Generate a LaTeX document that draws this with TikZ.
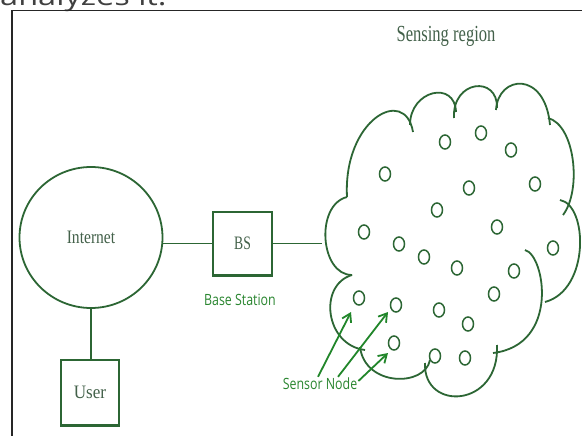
\documentclass[tikz,border=0pt]{standalone}
\usepackage{fontspec}
\setmainfont{Liberation Serif}
\newfontfamily\labelfont{Open Sans}
\usetikzlibrary{shapes.geometric,arrows.meta}
\definecolor{outl}{HTML}{2C6634}
\definecolor{txtg}{HTML}{43614A}
\definecolor{lblg}{HTML}{2A8630}
\definecolor{arrg}{HTML}{21862A}
\begin{document}
\begin{tikzpicture}[x=1pt,y=-1pt,
  outline/.style={draw=outl, line width=1.8pt},
  sensor/.style={ellipse, draw=outl, line width=1.5pt, minimum width=11pt, minimum height=14pt, inner sep=0pt},
  box/.style={rectangle, draw=outl, line width=1.8pt, inner sep=0pt},
  serif/.style={text=txtg, font=\fontsize{19}{22}\selectfont},
  lbl/.style={text=lblg, inner sep=1pt, font=\labelfont\fontsize{15.5}{18}\selectfont},
  arr/.style={draw=arrg, line width=1.8pt, -{Straight Barb[length=8pt,width=10pt]}}]
\useasboundingbox (0,0) rectangle (582,436);
\clip (0,0) rectangle (582,436);
\fill[white] (0,0) rectangle (582,436);

% cropped text fragment at top
\node[anchor=base west, inner sep=0pt, text=black!75, font=\labelfont\fontsize{26}{30}\selectfont] (frag) at (0,6) {\scalebox{1.25}[1]{analyzes it.}};

% frame
\draw[line width=1.6pt, black!85] (12,436) -- (12,10.5) -- (582,10.5);

% left part
\node[ellipse, outline, minimum width=143pt, minimum height=141pt, inner sep=0pt, serif] (inet) at (91,237.5) {\raisebox{-3pt}{\scalebox{0.82}[1]{Internet}}};
\node[box, serif, minimum width=59pt, minimum height=63pt] (bs) at (242.5,243.5) {\scalebox{0.72}[1]{BS}};
\node[lbl] (bslbl) at (240,300) {\scalebox{0.8}[1]{Base Station}};
\node[box, serif, minimum width=58pt, minimum height=65pt] (user) at (90,392.5) {\scalebox{0.9}[1]{User}};
\draw[outl, line width=2.8pt] (bs.south west) -- (bs.south east);
\draw[outl, line width=2.8pt] (user.south west) -- (user.south east);

\coordinate (cloudL) at (322,243.5);
\draw[outline] (inet.east |- bs.west) -- (bs.west);
\draw[outline] (bs.east) -- (cloudL);
\draw[outline] (inet.south) -- (inet.south |- user.north);

% cloud
\draw[outline] (347,197) .. controls (343,120) and (405,85) .. (413,132);
\draw[outline] (410,125) .. controls (410,90) and (455,80) .. (456,112);
\draw[outline] (454,118) .. controls (452,80) and (498,75) .. (497,108);
\draw[outline] (496,110) .. controls (498,75) and (545,70) .. (550,125);
\draw[outline] (548,118) .. controls (575,125) and (582,190) .. (563,215);
\draw[outline] (560,200) .. controls (588,205) and (590,290) .. (545,302);
\draw[outline] (525,250) .. controls (545,255) and (560,345) .. (493,353);
\draw[outline] (497,345) .. controls (500,408) and (423,412) .. (425,363);
\draw[outline] (430,360) .. controls (425,387) and (365,387) .. (360,347);
\draw[outline] (365,350) .. controls (325,345) and (318,285) .. (352,275);
\draw[outline] (352,275) .. controls (320,275) and (315,205) .. (347,197);

\node[serif, font=\fontsize{23}{26}\selectfont] (title) at (446,36) {\scalebox{0.72}[1]{Sensing region}};

% sensors
\node[sensor] (s1) at (445,142) {};
\node[sensor] (s2) at (481,133) {};
\node[sensor] (s3) at (511,150) {};
\node[sensor] (s4) at (385,174) {};
\node[sensor] (s5) at (469,188) {};
\node[sensor] (s6) at (535,184) {};
\node[sensor] (s7) at (437,210) {};
\node[sensor] (s8) at (497,227) {};
\node[sensor] (s9) at (364,232) {};
\node[sensor] (s10) at (399,244) {};
\node[sensor] (s11) at (424,257) {};
\node[sensor] (s12) at (457,268) {};
\node[sensor] (s13) at (553,248) {};
\node[sensor] (s14) at (514,271) {};
\node[sensor] (s15) at (359,298) {};
\node[sensor] (s16) at (396,305) {};
\node[sensor] (s17) at (439,310) {};
\node[sensor] (s18) at (494,294) {};
\node[sensor] (s19) at (468,324) {};
\node[sensor] (s20) at (394,343) {};
\node[sensor] (s21) at (435,356) {};
\node[sensor] (s22) at (465,358) {};

% sensor node label and arrows
\node[lbl] (sn) at (320,384) {\scalebox{0.8}[1]{Sensor Node}};
\draw[arr] ([xshift=-2pt]sn.north) -- ([shift={(-8,14)}]s15.center);
\draw[arr] ([xshift=18pt]sn.north) -- ([shift={(-8,7)}]s16.center);
\draw[arr] ([yshift=3pt]sn.east) -- ([shift={(-6,10)}]s20.center);
\end{tikzpicture}
\end{document}
